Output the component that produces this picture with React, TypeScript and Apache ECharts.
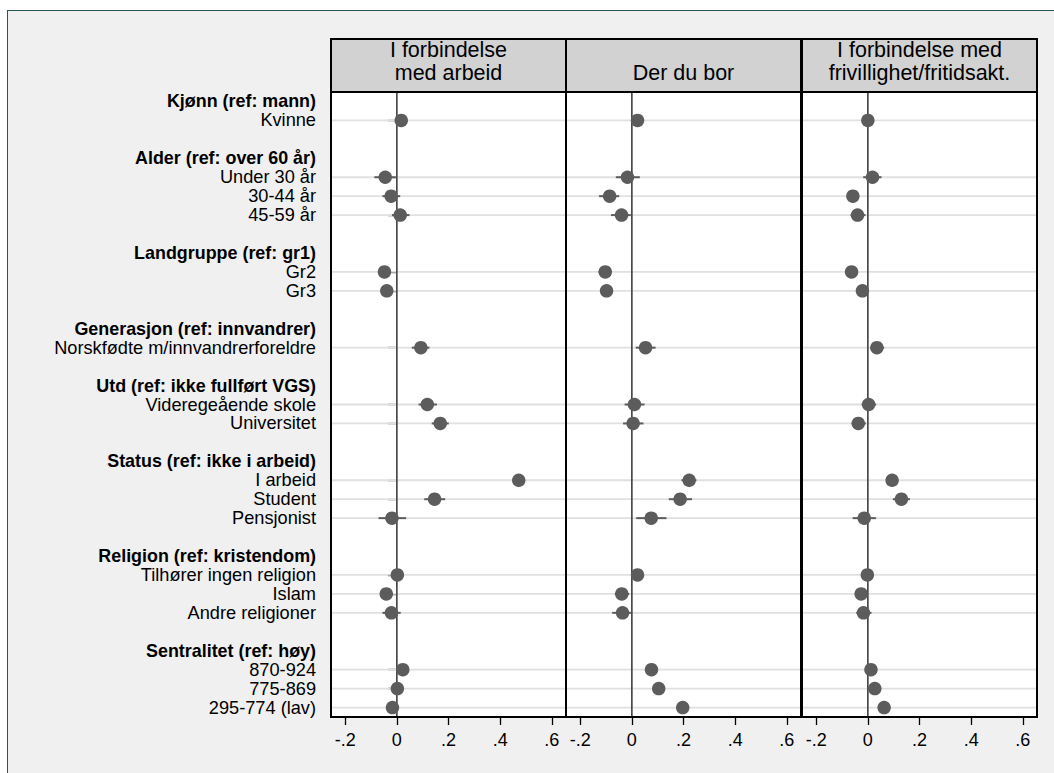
import React, { useEffect, useRef } from 'react';
import * as echarts from 'echarts';

const groupTitles = [
  'Kjønn (ref: mann)',
  'Alder (ref: over 60 år)',
  'Landgruppe (ref: gr1)',
  'Generasjon (ref: innvandrer)',
  'Utd (ref: ikke fullført VGS)',
  'Status (ref: ikke i arbeid)',
  'Religion (ref: kristendom)',
  'Sentralitet (ref: høy)',
];
const groupItems = [
  ['Kvinne'],
  ['Under 30 år', '30-44 år', '45-59 år'],
  ['Gr2', 'Gr3'],
  ['Norskfødte m/innvandrerforeldre'],
  ['Videregeående skole', 'Universitet'],
  ['I arbeid', 'Student', 'Pensjonist'],
  ['Tilhører ingen religion', 'Islam', 'Andre religioner'],
  ['870-924', '775-869', '295-774 (lav)'],
];

const panelTitles = [
  'I forbindelse\nmed arbeid',
  'Der du bor',
  'I forbindelse med\nfrivillighet/fritidsakt.',
];

// Panel 1: I forbindelse med arbeid
const coefArbeid = [0.017, -0.045, -0.022, 0.013, -0.048, -0.039, 0.093, 0.118, 0.168, 0.472, 0.146, -0.019, 0.002, -0.041, -0.021, 0.023, 0.002, -0.017];
const loArbeid = [0.003, -0.087, -0.056, -0.019, -0.071, -0.058, 0.058, 0.084, 0.135, 0.455, 0.106, -0.071, -0.013, -0.060, -0.056, 0.006, -0.015, -0.036];
const hiArbeid = [0.031, -0.004, 0.013, 0.049, -0.024, -0.020, 0.126, 0.155, 0.201, 0.490, 0.187, 0.036, 0.017, -0.022, 0.015, 0.040, 0.019, 0.002];

// Panel 2: Der du bor
const coefBor = [0.022, -0.017, -0.086, -0.040, -0.103, -0.098, 0.053, 0.010, 0.005, 0.222, 0.187, 0.075, 0.022, -0.039, -0.036, 0.076, 0.104, 0.197];
const loBor = [0.008, -0.062, -0.127, -0.081, -0.129, -0.118, 0.015, -0.028, -0.034, 0.192, 0.143, 0.017, 0.005, -0.066, -0.076, 0.058, 0.085, 0.176];
const hiBor = [0.036, 0.031, -0.049, -0.004, -0.077, -0.078, 0.092, 0.049, 0.045, 0.250, 0.233, 0.134, 0.039, -0.010, -0.001, 0.094, 0.123, 0.218];

// Panel 3: I forbindelse med frivillighet/fritidsakt.
const coefFritid = [0.000, 0.018, -0.058, -0.040, -0.063, -0.021, 0.035, 0.003, -0.037, 0.094, 0.130, -0.014, -0.002, -0.026, -0.017, 0.012, 0.027, 0.063];
const loFritid = [-0.013, -0.018, -0.077, -0.067, -0.082, -0.040, 0.010, -0.024, -0.063, 0.075, 0.097, -0.059, -0.018, -0.045, -0.045, -0.008, 0.008, 0.043];
const hiFritid = [0.013, 0.053, -0.039, -0.009, -0.044, -0.002, 0.063, 0.032, -0.008, 0.113, 0.163, 0.031, 0.014, -0.007, 0.014, 0.032, 0.046, 0.083];

const xTicks = [-0.2, 0, 0.2, 0.4, 0.6];
const xMin = -0.255;
const xMax = 0.655;

const panels = [
  { coef: coefArbeid, lo: loArbeid, hi: hiArbeid },
  { coef: coefBor, lo: loBor, hi: hiBor },
  { coef: coefFritid, lo: loFritid, hi: hiFritid },
];

const FONT = "'Liberation Sans', Arial, Helvetica, sans-serif";
const panelLeft = [331, 566, 802];
const panelWidth = [235, 235, 235];
const plotTop = 92;
const plotHeight = 625;
const stripTop = 39;
const DOT = '#5c5c5c';

export default function App() {
  const ref = useRef<HTMLDivElement>(null);

  useEffect(() => {
    if (!ref.current) return;
    const chart = echarts.init(ref.current, null, { renderer: 'svg' });

    const categories: string[] = [];
    const isHeader: boolean[] = [];
    const itemRows: number[] = [];
    groupTitles.forEach((t, g) => {
      categories.push(t);
      isHeader.push(true);
      groupItems[g].forEach((it) => {
        itemRows.push(categories.length);
        categories.push(it);
        isHeader.push(false);
      });
      if (g < groupTitles.length - 1) {
        categories.push('blank' + g);
        isHeader.push(false);
      }
    });
    const itemSet = new Set(itemRows);

    const grids: any[] = [];
    const xAxes: any[] = [];
    const yAxes: any[] = [];
    const series: any[] = [];
    const graphics: any[] = [];

    panels.forEach((p, i) => {
      grids.push({
        left: panelLeft[i],
        top: plotTop,
        width: panelWidth[i],
        height: plotHeight,
        show: true,
        backgroundColor: '#ffffff',
        borderWidth: 0,
      });
      xAxes.push({
        gridIndex: i,
        type: 'value',
        min: xMin,
        max: xMax,
        splitLine: { show: false },
        axisLine: { show: false },
        axisTick: {
          show: true,
          customValues: xTicks,
          length: 8,
          lineStyle: { color: '#000', width: 1.3 },
        },
        axisLabel: {
          customValues: xTicks,
          formatter: (v: number) => {
            if (Math.abs(v) < 1e-9) return '0';
            return v.toFixed(1).replace('0.', '.');
          },
          fontSize: 18,
          fontFamily: FONT,
          color: '#000',
          margin: 14,
        },
      });
      yAxes.push({
        gridIndex: i,
        type: 'category',
        data: categories,
        inverse: true,
        axisLine: { show: false },
        splitLine: { show: false },
        axisTick: {
          show: i === 0,
          alignWithLabel: true,
          interval: (index: number) => itemSet.has(index),
          length: 9,
          lineStyle: { color: '#000', width: 1.3 },
        },
        axisLabel: {
          show: i === 0,
          interval: 0,
          margin: 15,
          fontSize: 18.2,
          fontFamily: FONT,
          color: '#000',
          formatter: (value: string, index: number) => {
            if (isHeader[index]) return '{h|' + value + '}';
            if (!itemSet.has(index)) return '';
            return value;
          },
          rich: {
            h: { fontWeight: 'bold', fontSize: 17.9, fontFamily: FONT, color: '#000' },
          },
        },
      });

      // horizontal gridlines at each item row
      series.push({
        type: 'custom',
        xAxisIndex: i,
        yAxisIndex: i,
        silent: true,
        z: 1,
        data: itemRows.map((r) => [0, r]),
        renderItem: (params: any, api: any) => {
          const cs = params.coordSys;
          const y = api.coord([0, api.value(1)])[1];
          return {
            type: 'line',
            shape: { x1: cs.x, y1: y, x2: cs.x + cs.width, y2: y },
            style: { stroke: '#e0e0e0', lineWidth: 1.8 },
          };
        },
      });
      // zero line
      series.push({
        type: 'custom',
        xAxisIndex: i,
        yAxisIndex: i,
        silent: true,
        z: 2,
        data: [[0, 0]],
        renderItem: (params: any, api: any) => {
          const cs = params.coordSys;
          const x = api.coord([0, 0])[0];
          return {
            type: 'line',
            shape: { x1: x, y1: cs.y, x2: x, y2: cs.y + cs.height },
            style: { stroke: '#4a4a4a', lineWidth: 1.7 },
          };
        },
      });
      // confidence intervals
      series.push({
        type: 'custom',
        xAxisIndex: i,
        yAxisIndex: i,
        silent: true,
        z: 3,
        encode: { x: [0, 1], y: 2 },
        data: itemRows.map((r, k) => [p.lo[k], p.hi[k], r]),
        renderItem: (params: any, api: any) => {
          const a = api.coord([api.value(0), api.value(2)]);
          const b = api.coord([api.value(1), api.value(2)]);
          return {
            type: 'line',
            shape: { x1: a[0], y1: a[1], x2: b[0], y2: b[1] },
            style: { stroke: DOT, lineWidth: 2 },
          };
        },
      });
      // point estimates
      series.push({
        type: 'scatter',
        xAxisIndex: i,
        yAxisIndex: i,
        z: 4,
        symbol: 'circle',
        symbolSize: 13.5,
        itemStyle: { color: DOT, opacity: 1 },
        data: itemRows.map((r, k) => [p.coef[k], r]),
      });

      // strip header
      graphics.push({
        type: 'rect',
        z: 100,
        shape: { x: panelLeft[i], y: stripTop, width: panelWidth[i], height: plotTop - stripTop },
        style: { fill: '#d2d2d2', stroke: '#000', lineWidth: 2 },
      });
      const cx = panelLeft[i] + panelWidth[i] / 2;
      const twoLines = panelTitles[i].indexOf('\n') >= 0;
      graphics.push({
        type: 'text',
        z: 101,
        x: cx,
        y: twoLines ? 61.5 : 73,
        style: {
          text: panelTitles[i],
          fontSize: 21.5,
          lineHeight: 23.5,
          fontFamily: FONT,
          fill: '#000',
          align: 'center',
          verticalAlign: 'middle',
        },
      });
      // panel border
      graphics.push({
        type: 'rect',
        z: 100,
        shape: { x: panelLeft[i], y: plotTop, width: panelWidth[i], height: plotHeight },
        style: { fill: 'none', stroke: '#000', lineWidth: 2 },
      });
    });

    chart.setOption({
      animation: false,
      backgroundColor: 'transparent',
      grid: grids,
      xAxis: xAxes,
      yAxis: yAxes,
      series,
      graphic: graphics,
    });

    return () => chart.dispose();
  }, []);

  return (
    <div
      style={{
        position: 'fixed',
        left: 0,
        top: 0,
        width: 1054,
        height: 773,
        overflow: 'hidden',
        background: '#ffffff',
      }}
    >
      <div
        style={{
          position: 'absolute',
          left: 7,
          top: 10,
          width: 1100,
          height: 800,
          background: '#f0f0f0',
          border: '1.5px solid #275757',
          boxSizing: 'border-box',
        }}
      />
      <div ref={ref} style={{ position: 'absolute', left: 0, top: 0, width: 1054, height: 773 }} />
    </div>
  );
}
